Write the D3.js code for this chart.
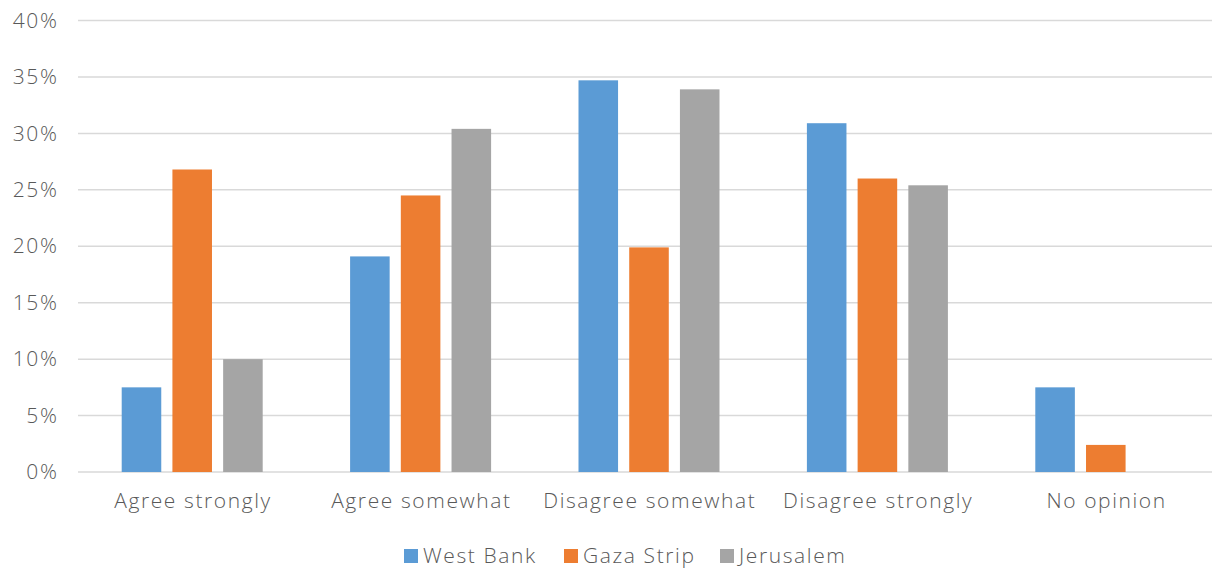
<!DOCTYPE html>
<html>
<head>
<meta charset="utf-8">
<script src="https://cdn.jsdelivr.net/npm/d3@7"></script>
<style>
  body { margin: 0; background: #fff; }
  text { font-family: 'Open Sans', Lato, sans-serif; font-weight: 300; fill: #595959; letter-spacing: 1.6px; }
</style>
</head>
<body>
<div id="chart"></div>
<script>
// data
const categories = ['Agree strongly', 'Agree somewhat', 'Disagree somewhat', 'Disagree strongly', 'No opinion']
const seriesNames = ['West Bank', 'Gaza Strip', 'Jerusalem']
const westBank = [7.5, 19.1, 34.7, 30.9, 7.5]
const gazaStrip = [26.8, 24.5, 19.9, 26.0, 2.4]
const jerusalem = [10.0, 30.4, 33.9, 25.4, null]
const yTicks = [0, 5, 10, 15, 20, 25, 30, 35, 40]
const colors = ['#5b9bd5', '#ed7d31', '#a5a5a5']

const seriesValues = [westBank, gazaStrip, jerusalem]

const dims = { width: 1212, height: 573, left: 78, right: 1220, gridRight: 1212, top: 20.5, bottom: 472 }

const svg = d3.select('#chart')
  .append('svg')
  .attr('width', dims.width)
  .attr('height', dims.height)

const xScale = d3.scaleBand()
  .domain(categories)
  .range([dims.left, dims.right])

const groupWidth = 141
const xInner = d3.scaleBand()
  .domain(seriesNames)
  .range([-groupWidth / 2, groupWidth / 2])
  .paddingInner(0.22)

const yScale = d3.scaleLinear()
  .domain([0, 40])
  .range([dims.bottom, dims.top])

// gridlines
svg.append('g')
  .selectAll('line')
  .data(yTicks)
  .join('line')
  .attr('x1', dims.left)
  .attr('x2', dims.gridRight)
  .attr('y1', d => yScale(d))
  .attr('y2', d => yScale(d))
  .attr('stroke', '#d9d9d9')
  .attr('stroke-width', 1.5)

// y axis labels (letter spacing adds trailing room, so nudge right)
const yAxis = d3.axisLeft(yScale)
  .tickValues(yTicks)
  .tickFormat(d => d + '%')
  .tickSize(0)
  .tickPadding(0)

const yAxisGroup = svg.append('g')
  .attr('transform', 'translate(58.5,0)')
  .call(yAxis)
yAxisGroup.select('.domain').remove()
yAxisGroup.selectAll('text')
  .attr('font-size', '21px')
  .attr('font-family', null)
  .attr('fill', '#595959')

// bars
const rows = []
categories.forEach((cat, i) => {
  seriesNames.forEach((s, j) => {
    if (seriesValues[j][i] != null) {
      rows.push({ cat, series: s, value: seriesValues[j][i], color: colors[j] })
    }
  })
})

svg.append('g')
  .selectAll('rect')
  .data(rows)
  .join('rect')
  .attr('x', d => xScale(d.cat) + xScale.bandwidth() / 2 + xInner(d.series))
  .attr('y', d => yScale(d.value))
  .attr('width', xInner.bandwidth())
  .attr('height', d => yScale(0) - yScale(d.value))
  .attr('fill', d => d.color)

// x axis labels
const xAxis = d3.axisBottom(xScale).tickSize(0).tickPadding(0)
const xAxisGroup = svg.append('g')
  .attr('transform', `translate(0.8,${dims.bottom + 21})`)
  .call(xAxis)
xAxisGroup.select('.domain').remove()
xAxisGroup.selectAll('text')
  .attr('font-size', '21px')
  .attr('font-family', null)
  .attr('fill', '#595959')

// legend
const legendX = [404, 564, 720]
const legend = svg.append('g')
  .selectAll('g')
  .data(seriesNames)
  .join('g')
  .attr('transform', (d, i) => `translate(${legendX[i]},549)`)

legend.append('rect')
  .attr('width', 14)
  .attr('height', 14)
  .attr('fill', (d, i) => colors[i])

legend.append('text')
  .attr('x', 19)
  .attr('y', 14)
  .attr('font-size', '21px')
  .text(d => d)
</script>
</body>
</html>
